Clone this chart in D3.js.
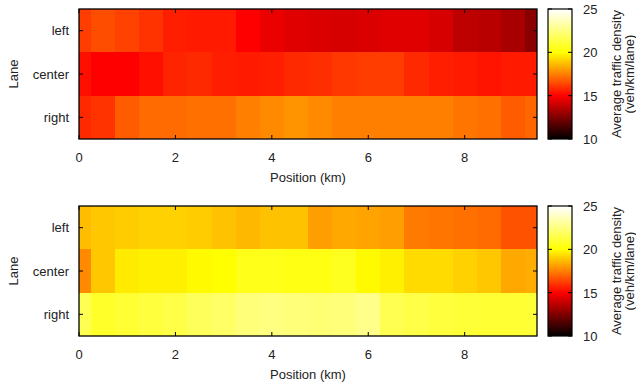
<!DOCTYPE html>
<html>
<head>
<meta charset="utf-8">
<script src="https://cdn.jsdelivr.net/npm/d3@7"></script>
<style>
  body { margin: 0; background: #fff; }
  svg { display: block; font-family: "Liberation Sans", Arial, sans-serif; }
</style>
</head>
<body>
<div id="chart"></div>
<script>
// positions of cell centres (km)
const positions = [0, 0.5, 1, 1.5, 2, 2.5, 3, 3.5, 4, 4.5, 5, 5.5, 6, 6.5, 7, 7.5, 8, 8.5, 9, 9.5];
const lanes = ["left", "center", "right"];
const xTicks = [0, 2, 4, 6, 8];
const colorTicks = [10, 15, 20, 25];

// top panel
const topLeft   = [16.2, 16.5, 16.3, 16.0, 15.6, 15.5, 15.5, 15.0, 14.6, 14.4, 14.3, 14.2, 14.3, 14.4, 14.4, 14.2, 13.7, 13.6, 13.3, 12.7];
const topCenter = [15.3, 15.0, 15.0, 15.3, 15.7, 15.8, 15.6, 15.5, 15.6, 15.8, 15.9, 16.1, 16.2, 16.2, 15.8, 15.6, 15.5, 15.4, 15.5, 15.5];
const topRight  = [15.8, 16.0, 16.8, 17.1, 17.1, 17.2, 17.2, 17.5, 17.7, 17.9, 17.7, 17.5, 17.5, 17.5, 17.5, 17.5, 17.3, 17.2, 16.8, 17.0];

// bottom panel
const botLeft   = [18.7, 18.9, 19.0, 19.1, 19.1, 19.0, 18.8, 18.6, 18.8, 18.8, 18.1, 18.3, 18.2, 18.1, 17.4, 17.3, 17.2, 17.1, 16.6, 16.6];
const botCenter = [17.7, 18.9, 19.6, 19.7, 19.7, 19.9, 20.0, 20.5, 20.5, 20.4, 20.4, 20.6, 19.9, 19.7, 19.3, 19.3, 19.1, 18.9, 18.3, 18.4];
const botRight  = [21.6, 20.8, 21.0, 21.2, 21.4, 21.8, 22.0, 22.4, 22.5, 22.4, 22.3, 22.4, 22.7, 21.6, 21.4, 21.2, 21.1, 21.0, 21.0, 21.1];

const W = 636, H = 384;
const fs = 13;
const svg = d3.select("#chart").append("svg").attr("width", W).attr("height", H);

// gnuplot-like "hot" palette: black -> red -> yellow -> white
const color = d3.scaleLinear()
  .domain([10, 15, 20, 25])
  .range(["#000000", "#ff0000", "#ffff00", "#ffffff"])
  .clamp(true);

function drawPanel(top, rows, id) {
  const left = 79, right = 537, bottom = top + 130;
  const x = d3.scaleLinear().domain([0, 9.5]).range([left, right]);
  const y = d3.scaleBand().domain(lanes).range([top, bottom]);
  const half = 0.25;
  const g = svg.append("g");

  const clipId = "clip" + id;
  svg.append("clipPath").attr("id", clipId)
    .append("rect").attr("x", left).attr("y", top).attr("width", right - left).attr("height", bottom - top);

  const cells = [];
  lanes.forEach((lane, i) => rows[i].forEach((v, j) => cells.push({ lane, pos: positions[j], v })));

  g.append("g").attr("clip-path", `url(#${clipId})`)
    .selectAll("rect").data(cells).enter().append("rect")
    .attr("x", d => x(d.pos - half))
    .attr("y", d => y(d.lane))
    .attr("width", d => x(d.pos + half) - x(d.pos - half) + 0.5)
    .attr("height", y.bandwidth() + 0.5)
    .attr("fill", d => color(d.v))
    .attr("shape-rendering", "crispEdges");

  // ticks (inward, mirrored)
  const tk = 4;
  xTicks.forEach(t => {
    g.append("line").attr("x1", x(t)).attr("x2", x(t)).attr("y1", bottom).attr("y2", bottom - tk).attr("stroke", "#000");
    g.append("line").attr("x1", x(t)).attr("x2", x(t)).attr("y1", top).attr("y2", top + tk).attr("stroke", "#000");
    g.append("text").attr("x", x(t)).attr("y", bottom + 23).attr("text-anchor", "middle")
      .attr("font-size", fs).attr("fill", "#222").text(t);
  });
  lanes.forEach(l => {
    const cy = y(l) + y.bandwidth() / 2;
    g.append("line").attr("x1", left).attr("x2", left + tk).attr("y1", cy).attr("y2", cy).attr("stroke", "#000");
    g.append("line").attr("x1", right).attr("x2", right - tk).attr("y1", cy).attr("y2", cy).attr("stroke", "#000");
    g.append("text").attr("x", 69).attr("y", cy + 4.5).attr("text-anchor", "end")
      .attr("font-size", fs).attr("fill", "#222").text(l);
  });

  g.append("rect").attr("x", left).attr("y", top).attr("width", right - left).attr("height", bottom - top)
    .attr("fill", "none").attr("stroke", "#000").attr("stroke-width", 1.3);

  g.append("text").attr("x", (left + right) / 2).attr("y", bottom + 43).attr("text-anchor", "middle")
    .attr("font-size", fs).attr("fill", "#222").text("Position (km)");
  g.append("text").attr("transform", `translate(18,${(top + bottom) / 2}) rotate(-90)`)
    .attr("text-anchor", "middle").attr("font-size", fs).attr("fill", "#222").text("Lane");

  // colour bar
  const cbX = 548, cbW = 24;
  const cy = d3.scaleLinear().domain([10, 25]).range([bottom, top]);
  const gradId = "grad" + id;
  const grad = svg.append("defs").append("linearGradient").attr("id", gradId)
    .attr("x1", 0).attr("y1", 1).attr("x2", 0).attr("y2", 0);
  d3.range(10, 25.01, 0.5).forEach(v => {
    grad.append("stop").attr("offset", (v - 10) / 15).attr("stop-color", color(v));
  });
  g.append("rect").attr("x", cbX).attr("y", top).attr("width", cbW).attr("height", bottom - top)
    .attr("fill", `url(#${gradId})`).attr("stroke", "#000").attr("stroke-width", 1.2);
  colorTicks.forEach(t => {
    g.append("line").attr("x1", cbX).attr("x2", cbX + tk).attr("y1", cy(t)).attr("y2", cy(t)).attr("stroke", "#000");
    g.append("line").attr("x1", cbX + cbW).attr("x2", cbX + cbW - tk).attr("y1", cy(t)).attr("y2", cy(t)).attr("stroke", "#000");
    g.append("text").attr("x", 583).attr("y", cy(t) + 5).attr("font-size", fs).attr("fill", "#222").text(t);
  });
  const title = g.append("text").attr("transform", `translate(621,${(top + bottom) / 2}) rotate(-90)`)
    .attr("text-anchor", "middle").attr("font-size", fs).attr("fill", "#222");
  title.append("tspan").attr("x", 0).attr("dy", 0).text("Average traffic density");
  title.append("tspan").attr("x", 0).attr("dy", 12.5).text("(veh/km/lane)");
}

drawPanel(9, [topLeft, topCenter, topRight], "a");
drawPanel(206, [botLeft, botCenter, botRight], "b");
</script>
</body>
</html>
